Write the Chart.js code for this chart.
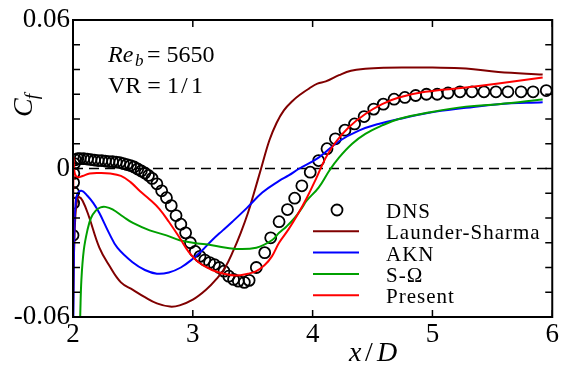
<!DOCTYPE html>
<html>
<head>
<meta charset="utf-8">
<script src="https://cdn.jsdelivr.net/npm/chart.js@4.4.0/dist/chart.umd.min.js"></script>
<style>
  html, body { margin: 0; padding: 0; background: #fff; }
  canvas { display: block; }
</style>
</head>
<body>
<canvas id="cfChart" width="561" height="367"></canvas>
<script>
// Datos (x/D, Cf)
const dnsX = [2.000, 2.005, 2.005, 2.005, 2.007, 2.012, 2.02, 2.04, 2.06, 2.09, 2.12, 2.15, 2.18, 2.21, 2.24, 2.27, 2.30, 2.33, 2.36, 2.39,
              2.42, 2.45, 2.48, 2.51, 2.54, 2.57, 2.60, 2.63, 2.66, 2.70, 2.74, 2.78, 2.82, 2.86, 2.90, 2.94, 2.98, 3.02, 3.06, 3.10,
              3.14, 3.18, 3.22, 3.26, 3.30, 3.34, 3.38, 3.43, 3.47, 3.53, 3.60, 3.65, 3.72, 3.79, 3.85, 3.91, 3.98, 4.05, 4.12, 4.19,
              4.27, 4.35, 4.43, 4.51, 4.59, 4.68, 4.77, 4.86, 4.95, 5.04, 5.13, 5.23, 5.33, 5.43, 5.53, 5.63, 5.74, 5.84, 5.95];
const dnsY = [-0.027, -0.014, -0.0097, -0.0057, -0.002, 0.002, 0.0035, 0.004, 0.004, 0.004, 0.0038, 0.0036, 0.0034, 0.0032, 0.0032, 0.003, 0.0028, 0.0028, 0.0026, 0.0024,
              0.002, 0.0016, 0.0012, 0.0006, -0.0002, -0.001, -0.0018, -0.0028, -0.004, -0.0062, -0.009, -0.0118, -0.015, -0.019, -0.0225, -0.026, -0.030, -0.0335, -0.0355, -0.037,
              -0.038, -0.0388, -0.040, -0.0415, -0.0435, -0.0448, -0.0455, -0.046, -0.0452, -0.040, -0.034, -0.028, -0.0215, -0.0166, -0.012, -0.007, -0.0015, 0.0032, 0.008, 0.012,
              0.0155, 0.018, 0.021, 0.024, 0.026, 0.028, 0.0287, 0.0295, 0.030, 0.030, 0.0305, 0.031, 0.031, 0.031, 0.031, 0.031, 0.031, 0.031, 0.0315];

const lsX = [2.000, 2.008, 2.02, 2.035, 2.05, 2.08, 2.13, 2.22, 2.30, 2.40, 2.50, 2.60, 2.70, 2.81, 2.89, 3.00, 3.11, 3.20, 3.27, 3.34, 3.40,
             3.46, 3.51, 3.57, 3.64, 3.70, 3.76, 3.83, 3.90, 3.97, 4.04, 4.11, 4.22, 4.32, 4.44, 4.60, 4.80, 5.00, 5.28, 5.55, 5.92];
const lsY = [-0.060, -0.035, -0.019, -0.0125, -0.0115, -0.013, -0.019, -0.032, -0.039, -0.046, -0.049, -0.052, -0.0545, -0.0558, -0.0553, -0.053, -0.049, -0.0445, -0.040, -0.033, -0.026,
             -0.018, -0.010, 0.000, 0.0115, 0.0185, 0.0235, 0.0272, 0.030, 0.0323, 0.0343, 0.0352, 0.0377, 0.0395, 0.0403, 0.0407, 0.0408, 0.0408, 0.0404, 0.039, 0.038];

const aknX = [2.003, 2.010, 2.02, 2.035, 2.07, 2.12, 2.17, 2.22, 2.30, 2.37, 2.50, 2.60, 2.70, 2.80, 2.90, 3.00, 3.08, 3.16, 3.25, 3.33,
              3.45, 3.58, 3.72, 3.80, 3.89, 4.05, 4.22, 4.39, 4.55, 4.72, 4.97, 5.28, 5.55, 5.92];
const aknY = [-0.060, -0.028, -0.015, -0.0105, -0.009, -0.011, -0.014, -0.018, -0.026, -0.032, -0.038, -0.041, -0.0425, -0.042, -0.040, -0.0365, -0.033, -0.029, -0.025, -0.0215,
              -0.016, -0.0097, -0.005, -0.0028, 0.000, 0.0044, 0.011, 0.0154, 0.018, 0.020, 0.0225, 0.0245, 0.026, 0.0268];

const somX = [2.060, 2.07, 2.09, 2.12, 2.15, 2.19, 2.23, 2.27, 2.33, 2.42, 2.50, 2.64, 2.78, 2.89, 3.00, 3.16, 3.36, 3.53, 3.66, 3.72,
              3.78, 3.85, 3.91, 3.95, 4.05, 4.14, 4.22, 4.33, 4.44, 4.58, 4.72, 4.97, 5.28, 5.55, 5.92];
const somY = [-0.060, -0.045, -0.033, -0.025, -0.020, -0.017, -0.0157, -0.0155, -0.0165, -0.0195, -0.022, -0.025, -0.027, -0.029, -0.030, -0.031, -0.0325, -0.032, -0.029, -0.026,
              -0.0235, -0.020, -0.016, -0.013, -0.0077, -0.0008, 0.0044, 0.010, 0.014, 0.0174, 0.020, 0.0226, 0.025, 0.026, 0.0279];

const preX = [2.000, 2.004, 2.015, 2.04, 2.08, 2.14, 2.22, 2.31, 2.40, 2.48, 2.56, 2.64, 2.72, 2.80, 2.89, 2.97, 3.05, 3.16, 3.26, 3.36,
              3.46, 3.53, 3.60, 3.66, 3.72, 3.80, 3.87, 3.95, 4.03, 4.11, 4.19, 4.30, 4.44, 4.58, 4.72, 4.94, 5.28, 5.55, 5.92];
const preY = [-0.060, 0.004, -0.002, -0.0035, -0.003, -0.002, -0.0018, -0.002, -0.003, -0.0055, -0.0092, -0.0125, -0.0163, -0.0215, -0.028, -0.034, -0.038, -0.041, -0.0425, -0.0432,
              -0.0425, -0.0415, -0.039, -0.0355, -0.030, -0.0245, -0.019, -0.012, -0.004, 0.0044, 0.0105, 0.0166, 0.022, 0.026, 0.0287, 0.031, 0.0327, 0.0343, 0.0368];

const xTicks = [2, 3, 4, 5, 6];
const yTickLabels = [-0.06, 0, 0.06];

const serif = "'Liberation Serif', 'DejaVu Serif', serif";

function pares(xs, ys) {
    return xs.map((x, i) => ({ x: x, y: ys[i] }));
}

// Marco, ticks hacia dentro, linea y = 0, textos y leyenda
const marcoPlugin = {
    id: 'marco',
    beforeDatasetsDraw(chart) {
        const { ctx, chartArea: a, scales } = chart;
        const y0 = scales.y.getPixelForValue(0);
        ctx.save();
        ctx.strokeStyle = '#000';
        ctx.lineWidth = 1.6;
        ctx.setLineDash([10, 6]);
        ctx.beginPath();
        ctx.moveTo(a.left, y0);
        ctx.lineTo(a.right, y0);
        ctx.stroke();
        ctx.restore();
    },
    afterDatasetsDraw(chart) {
        const { ctx, chartArea: a, scales } = chart;
        ctx.save();
        ctx.strokeStyle = '#000';
        ctx.lineWidth = 2;
        ctx.strokeRect(a.left, a.top, a.right - a.left, a.bottom - a.top);
        ctx.lineWidth = 1.5;
        ctx.beginPath();
        scales.y.ticks.forEach(t => {
            const py = scales.y.getPixelForValue(t.value);
            ctx.moveTo(a.left, py); ctx.lineTo(a.left + 7, py);
            ctx.moveTo(a.right, py); ctx.lineTo(a.right - 7, py);
        });
        scales.x.ticks.forEach(t => {
            const px = scales.x.getPixelForValue(t.value);
            ctx.moveTo(px, a.bottom); ctx.lineTo(px, a.bottom - 7);
            ctx.moveTo(px, a.top); ctx.lineTo(px, a.top + 7);
        });
        ctx.stroke();
        ctx.restore();
    },
    afterDraw(chart) {
        const ctx = chart.ctx;
        ctx.save();
        ctx.fillStyle = '#000';
        ctx.textAlign = 'left';
        ctx.textBaseline = 'alphabetic';

        // Re_b = 5650
        ctx.font = 'italic 24px ' + serif;
        ctx.fillText('Re', 108, 62);
        ctx.font = 'italic 17px ' + serif;
        ctx.fillText('b', 135, 66);
        ctx.font = '24px ' + serif;
        ctx.fillText('= 5650', 147, 62);

        // VR = 1/1
        ctx.fillText('VR = 1', 108, 93);
        ctx.fillText('/', 181, 93);
        ctx.fillText('1', 191, 93);

        // eje y: C_f
        ctx.save();
        ctx.translate(32, 117);
        ctx.rotate(-Math.PI / 2);
        ctx.font = 'italic 28px ' + serif;
        ctx.fillText('C', 0, 0);
        const wc = ctx.measureText('C').width;
        ctx.font = 'italic 19px ' + serif;
        ctx.fillText('f', wc - 1, 6);
        ctx.restore();

        // eje x: x/D
        ctx.font = 'italic 28px ' + serif;
        ctx.fillText('x', 349, 361);
        ctx.font = '28px ' + serif;
        ctx.fillText('/', 365, 361);
        ctx.font = 'italic 28px ' + serif;
        ctx.fillText('D', 377, 361);

        // leyenda
        ctx.font = '21px ' + serif;
        ctx.letterSpacing = '1px';
        chart.data.datasets.forEach((ds, i) => {
            const yb = 218 + i * 21.3;
            const ym = yb - 8;
            if (ds.showLine) {
                ctx.strokeStyle = ds.borderColor;
                ctx.lineWidth = 2;
                ctx.beginPath();
                ctx.moveTo(313, ym);
                ctx.lineTo(359, ym);
                ctx.stroke();
            } else {
                ctx.strokeStyle = '#000';
                ctx.lineWidth = 1.8;
                ctx.beginPath();
                ctx.arc(337, ym, 5.5, 0, Math.PI * 2);
                ctx.stroke();
            }
            ctx.fillStyle = '#000';
            ctx.fillText(ds.label, 386, yb);
        });
        ctx.restore();
    }
};

function linea(label, xs, ys, color, orden) {
    return {
        label: label,
        data: pares(xs, ys),
        showLine: true,
        borderColor: color,
        backgroundColor: color,
        borderWidth: 2,
        pointRadius: 0,
        tension: 0.4,
        order: orden
    };
}

document.addEventListener('DOMContentLoaded', function() {
    const ctx = document.getElementById('cfChart').getContext('2d');
    new Chart(ctx, {
        type: 'scatter',
        data: {
            datasets: [
                {
                    label: 'DNS',
                    data: pares(dnsX, dnsY),
                    showLine: false,
                    pointRadius: 5.5,
                    pointBorderWidth: 1.8,
                    pointBorderColor: '#000',
                    pointBackgroundColor: 'rgba(0,0,0,0)',
                    order: 5
                },
                linea('Launder-Sharma', lsX, lsY, '#800000', 4),
                linea('AKN', aknX, aknY, '#0000ff', 3),
                linea('S-\u03A9', somX, somY, '#00a000', 2),
                linea('Present', preX, preY, '#ff0000', 1)
            ]
        },
        options: {
            responsive: false,
            animation: false,
            layout: {
                padding: { top: 20, right: 7, left: 0, bottom: 0 }
            },
            plugins: {
                legend: { display: false },
                tooltip: { enabled: false }
            },
            scales: {
                x: {
                    type: 'linear',
                    min: 2,
                    max: 6,
                    afterBuildTicks: s => { s.ticks = xTicks.map(v => ({ value: v })); },
                    ticks: {
                        autoSkip: false,
                        maxRotation: 0,
                        padding: 2,
                        color: '#000',
                        font: { family: serif, size: 27 }
                    },
                    grid: { display: false, drawTicks: false },
                    border: { display: false },
                    afterFit: s => { s.height = 50; }
                },
                y: {
                    min: -0.06,
                    max: 0.06,
                    ticks: {
                        stepSize: 0.01,
                        autoSkip: false,
                        padding: 3,
                        color: '#000',
                        font: { family: serif, size: 27 },
                        callback: function(v) {
                            const hit = yTickLabels.find(t => Math.abs(t - v) < 1e-9);
                            return hit === undefined ? '' : String(hit);
                        }
                    },
                    grid: { display: false, drawTicks: false },
                    border: { display: false },
                    afterFit: s => { s.width = 73; }
                }
            }
        },
        plugins: [marcoPlugin]
    });
});
</script>
</body>
</html>
